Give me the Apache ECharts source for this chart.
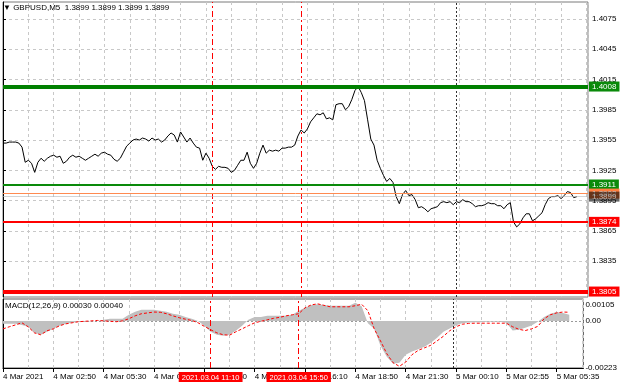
<!DOCTYPE html>
<html><head><meta charset="utf-8">
<script src="https://cdn.jsdelivr.net/npm/echarts@6/dist/echarts.min.js"></script>
<style>html,body{margin:0;padding:0;background:#fff}#c{width:620px;height:388px}</style>
</head><body><div id="c"></div>
<script>
const symbolTitle = '\u25BC GBPUSD,M5  1.3899 1.3899 1.3899 1.3899';
const macdTitle = 'MACD(12,26,9) 0.00030 0.00040';
const timeLabels = ['4 Mar 2021','4 Mar 02:50','4 Mar 05:30','4 Mar 08:10','4 Mar 10:50','4 Mar 13:30','4 Mar 16:10','4 Mar 18:50','4 Mar 21:30','5 Mar 00:10','5 Mar 02:55','5 Mar 05:35'];
const labelBars = [0,32,64,96,128,160,192,224,256,288,320,352];
const priceTicks = [1.3835,1.3865,1.3895,1.3925,1.3955,1.3985,1.4015,1.4045,1.4075];
const macdTicks = [0.00105, 0, -0.00223];
const priceStep = 2;   // bars between price samples
const macdStep = 4;    // bars between MACD samples
const close = [1.3952,1.3952,1.3953,1.3953,1.3953,1.3952,1.3948,1.3933,1.3935,1.3932,
 1.3923,1.3933,1.3937,1.3934,1.3937,1.3939,1.3940,1.3938,1.3939,1.3932,
 1.3934,1.3938,1.3940,1.3938,1.3939,1.3937,1.3935,1.3937,1.3939,1.3941,
 1.3939,1.3942,1.3943,1.3941,1.3940,1.3936,1.3934,1.3937,1.3943,1.3949,
 1.3952,1.3955,1.3956,1.3955,1.3957,1.3956,1.3954,1.3957,1.3955,1.3956,
 1.3953,1.3955,1.3959,1.3962,1.3960,1.3953,1.3963,1.3958,1.3953,1.3957,
 1.3952,1.3948,1.3947,1.3935,1.3942,1.3937,1.3929,1.3926,1.3929,1.3928,
 1.3928,1.3927,1.3923,1.3925,1.3930,1.3935,1.3935,1.3943,1.3932,1.3927,
 1.3932,1.3942,1.3950,1.3942,1.3945,1.3944,1.3945,1.3944,1.3947,1.3947,
 1.3948,1.3948,1.3950,1.3959,1.3965,1.3962,1.3966,1.3973,1.3977,1.3981,
 1.3980,1.3982,1.3976,1.3977,1.3975,1.3990,1.3991,1.3991,1.3985,1.3988,
 1.3995,1.4004,1.4008,1.4002,1.3994,1.3975,1.3956,1.3950,1.3935,1.3927,
 1.3920,1.3914,1.3917,1.3913,1.3899,1.3892,1.3901,1.3905,1.3900,1.3901,
 1.3896,1.3888,1.3889,1.3887,1.3884,1.3887,1.3888,1.3889,1.3893,1.3894,
 1.3893,1.3894,1.3891,1.3894,1.3893,1.3896,1.3894,1.3894,1.3892,1.3889,
 1.3890,1.3890,1.3891,1.3893,1.3892,1.3892,1.3890,1.3890,1.3887,1.3891,
 1.3893,1.3874,1.3869,1.3872,1.3878,1.3882,1.3882,1.3875,1.3877,1.3880,
 1.3883,1.3891,1.3897,1.3899,1.3899,1.3900,1.3897,1.3900,1.3904,1.3903,
 1.3898,1.3899];
const macdMain = [-0.00013,-0.00013,-0.00013,-0.00018,-0.00027,-0.00056,-0.00065,-0.00051,-0.00037,-0.00022,
 -0.00013,-0.00008,-0.00003,-0.00003,-0.00001,0.00001,0.00006,0.00011,0.00011,0.00011,
 0.0003,0.00044,0.00054,0.00054,0.00054,0.00049,0.00044,0.00035,0.0003,0.0002,
 0.00011,0.0,-0.00022,-0.00051,-0.00065,-0.0007,-0.00065,-0.00046,-0.00022,0.00006,
 0.0002,0.0002,0.00025,0.00025,0.00025,0.00025,0.0003,0.00049,0.00063,0.00077,
 0.0008,0.00077,0.00073,0.00073,0.00073,0.00073,0.00087,0.0007,-0.0001,-0.00037,
 -0.00117,-0.0017,-0.00203,-0.00198,-0.0016,-0.00144,-0.00134,-0.00122,-0.00103,-0.00079,
 -0.00051,-0.00035,-0.0002,-0.0001,-0.00007,-0.00006,-0.00006,-0.00003,-0.00003,-0.00003,
 -0.00008,-0.00045,-0.00041,-0.00032,-0.00021,-0.00003,0.0002,0.00035,0.00043,0.00039,
 0.0003];
const macdSignal = [-0.00037,-0.00027,-0.00018,-0.00008,-0.00027,-0.00056,-0.00065,-0.00046,-0.00037,-0.00022,
 -0.00013,-0.00008,-0.00003,-0.00001,0.00001,0.00003,0.00001,-0.00001,-0.00003,0.00001,
 0.00011,0.00025,0.00035,0.00039,0.00043,0.00042,0.00035,0.00025,0.00016,0.00009,
 0.00003,-0.00008,-0.00025,-0.00041,-0.00056,-0.00065,-0.00067,-0.00051,-0.00037,-0.00022,
 -0.00008,-0.00001,0.00006,0.00013,0.00018,0.00025,0.0003,0.00035,0.00063,0.00077,
 0.00082,0.00075,0.00068,0.00068,0.00068,0.00068,0.00073,0.0008,0.00049,-0.00037,
 -0.00094,-0.00155,-0.00198,-0.00215,-0.00195,-0.0016,-0.00139,-0.00127,-0.00115,-0.00094,
 -0.00072,-0.00046,-0.00027,-0.00015,-0.00011,-0.0001,-0.0001,-0.0001,-0.0001,-0.0001,
 -0.0001,-0.00027,-0.00039,-0.00045,-0.00037,-0.00025,0.00011,0.0003,0.00039,0.00043,
 0.00042];
const resistHigh = 1.4008, resistLow = 1.3911, hLine = 1.3902, bidPrice = 1.3899, supportHigh = 1.3874, supportLow = 1.3805;
const eventBars = [132, 188];
const eventLabels = ['2021.03.04 11:10', '2021.03.04 15:50'];
const daySepBar = 286;

const FONT = '"Liberation Sans", Arial, sans-serif';
const FS = 8;
const chart = echarts.init(document.getElementById('c'), null, {renderer: 'canvas'});
const priceData = close.map((v, i) => [i * priceStep, v]);
const mainData = macdMain.map((v, i) => [i * macdStep, v]);
const sigData = macdSignal.map((v, i) => [i * macdStep, v]);
const gridSplit = {show: true, lineStyle: {color: '#c8c8c8', type: [3, 3], width: 1}};
function boxLabel(bg, fg) {
  return {show: true, position: 'end', distance: 1, formatter: p => Number(p.value).toFixed(4),
    color: fg || '#fff', backgroundColor: bg, padding: [1, 3, 0, 3], fontSize: FS, lineHeight: 9, fontFamily: FONT};
}
const RED_DASH = [6, 3, 2, 3];
function eventLine(i, withLabel) {
  return {xAxis: eventBars[i], name: eventLabels[i],
    lineStyle: {color: '#ff0000', width: 1, type: RED_DASH, opacity: 1},
    label: withLabel ? {show: true, position: 'start', distance: 4, formatter: eventLabels[i], color: '#fff',
      backgroundColor: '#ff0000', padding: [1, 3, 0, 3], fontSize: 7.5, lineHeight: 9, fontFamily: FONT} : {show: false}};
}
const daySep = {xAxis: daySepBar, lineStyle: {color: '#303030', width: 1, type: [2, 2]}, label: {show: false}};

const option = {
  animation: false,
  backgroundColor: '#fff',
  textStyle: {fontFamily: FONT},
  title: [
    {text: symbolTitle, left: 3, top: 4, padding: 0, textStyle: {fontSize: FS, fontWeight: 'normal', color: '#000', fontFamily: FONT}},
    {text: macdTitle, left: 5, top: 302, padding: 0, textStyle: {fontSize: FS, fontWeight: 'normal', color: '#000', fontFamily: FONT}}
  ],
  grid: [
    {left: 3, top: 2, width: 585, height: 295, show: true, borderColor: '#7a7a7a', borderWidth: 1},
    {left: 3, top: 299, width: 585, height: 69, show: true, borderColor: '#5a5a5a', borderWidth: 1}
  ],
  xAxis: [
    {gridIndex: 0, type: 'value', min: 0, max: 369, interval: 16, axisLine: {show: false}, axisTick: {show: false}, axisLabel: {show: false}, splitLine: gridSplit},
    {gridIndex: 1, type: 'value', min: 0, max: 369, interval: 16, axisLine: {show: false}, axisTick: {show: false}, axisLabel: {show: false}, splitLine: gridSplit},
    {gridIndex: 1, type: 'value', min: 0, max: 369, position: 'bottom',
      axisLine: {show: true, lineStyle: {color: '#000'}},
      axisTick: {show: true, customValues: labelBars, length: 4, lineStyle: {color: '#000'}},
      axisLabel: {show: true, customValues: labelBars, formatter: v => timeLabels[labelBars.indexOf(v)] || '', align: 'left', margin: 5, fontSize: FS, color: '#000', fontFamily: FONT},
      splitLine: {show: false}}
  ],
  yAxis: [
    {gridIndex: 0, type: 'value', position: 'right', min: 1.37996, max: 1.40917,
      axisLine: {show: true, lineStyle: {color: '#000'}},
      axisTick: {show: true, customValues: priceTicks, length: 3, lineStyle: {color: '#000'}},
      axisLabel: {customValues: priceTicks, formatter: v => v.toFixed(4), margin: 4, fontSize: FS, color: '#000', fontFamily: FONT},
      splitLine: gridSplit},
    {gridIndex: 1, type: 'value', position: 'right', min: -0.00223, max: 0.00105,
      axisLine: {show: true, lineStyle: {color: '#000'}},
      axisTick: {show: true, customValues: [0], length: 3, lineStyle: {color: '#000'}},
      axisLabel: {customValues: macdTicks, margin: 2, fontSize: FS, color: '#000', fontFamily: FONT,
        formatter: v => v > 0 ? '{t|' + v.toFixed(5) + '}' : (v < 0 ? '{b|' + v.toFixed(5) + '}' : '0.00'),
        rich: {t: {padding: [12, 0, 0, 0], fontSize: FS, fontFamily: FONT, color: '#000'}, b: {padding: [0, 0, 1, 0], fontSize: FS, fontFamily: FONT, color: '#000'}}},
      splitLine: {show: true, lineStyle: {color: '#9a9a9a', type: [2, 2]}}}
  ],
  series: [
    {type: 'line', name: 'GBPUSD', xAxisIndex: 0, yAxisIndex: 0, data: priceData, showSymbol: false,
      lineStyle: {color: '#000', width: 1}, z: 3,
      markLine: {symbol: 'none', silent: true, animation: false, precision: 4,
        data: [
          eventLine(0, false),
          eventLine(1, false),
          daySep,
          {yAxis: resistHigh, lineStyle: {color: '#008000', width: 4, type: 'solid'}, label: boxLabel('#0a8a0a')},
          {yAxis: resistLow, lineStyle: {color: '#0a8a0a', width: 2, type: 'solid'}, label: boxLabel('#0a8a0a')},
          {yAxis: hLine, lineStyle: {color: '#ff8a50', width: 1, type: 'solid'}, label: boxLabel('#ff7f40')},
          {yAxis: bidPrice, lineStyle: {color: '#b8b8b8', width: 1, type: 'solid', opacity: 0.6}, label: boxLabel('#000000')},
          {yAxis: supportHigh, lineStyle: {color: '#ff0000', width: 2, type: 'solid'}, label: boxLabel('#ff0000')},
          {yAxis: supportLow, lineStyle: {color: '#ff0000', width: 4, type: 'solid'}, label: boxLabel('#ff0000')}
        ]}},
    {type: 'line', name: 'MACD', xAxisIndex: 1, yAxisIndex: 1, data: mainData, showSymbol: false,
      lineStyle: {width: 0, color: '#c0c0c0'}, areaStyle: {color: '#c0c0c0', opacity: 1}, z: 2,
      markLine: {symbol: 'none', silent: true, animation: false,
        data: [eventLine(0, true), eventLine(1, true), daySep]}},
    {type: 'line', name: 'Signal', xAxisIndex: 1, yAxisIndex: 1, data: sigData, showSymbol: false,
      lineStyle: {color: '#ff0000', width: 1, type: [3, 2]}, z: 3}
  ]
};
chart.setOption(option);
</script></body></html>
